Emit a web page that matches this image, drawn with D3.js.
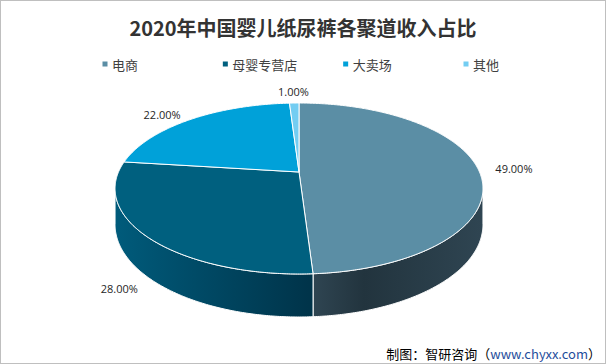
<!DOCTYPE html>
<html><head><meta charset="utf-8">
<script src="https://cdn.jsdelivr.net/npm/d3@7"></script>
<style>body{margin:0;background:#fff}svg{display:block}</style>
</head><body>
<script>
const categories = ["电商", "母婴专营店", "大卖场", "其他"];
const values = [49, 28, 22, 1];
const labels = ["49.00%", "28.00%", "22.00%", "1.00%"];
const topColors = ["#5b8ea5", "#00607f", "#00a1d9", "#73cdf2"];
const sideColors = [["#2f4552", "#22343e"], ["#005b7b", "#003349"], ["#0088bb", "#006f9a"], ["#5cb8dd", "#4aa5cc"]];
const title = "2020年中国婴儿纸尿裤各聚道收入占比";

const W = 606, H = 364;
const svg = d3.select("body").append("svg").attr("width", W).attr("height", H);
svg.append("rect").attr("x", 0.5).attr("y", 0.5).attr("width", W - 1).attr("height", H - 1)
  .attr("fill", "#fff").attr("stroke", "#bfbfbf");

svg.append("text").attr("x", 303).attr("y", 27).attr("text-anchor", "middle")
  .attr("dominant-baseline", "central")
  .style("font-family", "'Noto Sans CJK SC'").style("font-weight", "bold").style("font-size", "20px")
  .attr("fill", "#333").text(title);

// legend
const legendX = d3.scalePoint().domain(categories).range([105, 466]);
const lg = svg.append("g").selectAll("g").data(categories).join("g")
  .attr("transform", d => `translate(${legendX(d)},64)`);
lg.append("rect").attr("x", -2.5).attr("y", -2.5).attr("width", 5).attr("height", 5)
  .attr("fill", (d, i) => topColors[i]);
lg.append("text").attr("x", 7).attr("y", 0).attr("dominant-baseline", "central")
  .style("font-family", "'Noto Sans CJK SC'").style("font-size", "13px").attr("fill", "#404040")
  .text(d => d);

// 3D pie via perspective projection
const cx = 299, cy = 172, R = 180.5, Ry = 82.3, p = 0.193, depth = 34.7;
const pie = d3.pie().sort(null).value(d => d)(values);
function proj(phi, k = 1, down = 0) {
  const X = k * Math.sin(phi), D = -k * Math.cos(phi);
  const s = 1 / (1 - p * D);
  return [cx + R * X * s, cy + Ry * D * s + down * depth * s];
}
function arcPts(a0, a1, down) {
  const n = Math.max(2, Math.ceil(Math.abs(a1 - a0) / 0.01));
  return d3.range(n + 1).map(i => proj(a0 + (a1 - a0) * i / n, 1, down));
}
const line = d3.line();
const silL = Math.PI - Math.acos(p), silR = Math.PI + Math.acos(p);

const defs = svg.append("defs");
pie.forEach((d, i) => {
  const a0 = Math.max(d.startAngle, silL), a1 = Math.min(d.endAngle, silR);
  if (a1 <= a0) return;
  const g = defs.append("linearGradient").attr("id", "sg" + i).attr("gradientUnits", "userSpaceOnUse");
  const xs = [proj(a0)[0], proj(a1)[0]];
  g.attr("x1", Math.min(...xs)).attr("x2", Math.max(...xs)).attr("y1", 0).attr("y2", 0);
  const c = sideColors[i];
  if (d.endAngle <= Math.PI + 0.2) {
    g.append("stop").attr("offset", 0).attr("stop-color", c[0]);
    g.append("stop").attr("offset", 0.3).attr("stop-color", c[1]);
    g.append("stop").attr("offset", 1).attr("stop-color", c[0]);
  } else {
    g.append("stop").attr("offset", 0).attr("stop-color", c[0]);
    g.append("stop").attr("offset", 1).attr("stop-color", c[1]);
  }
});

// sides
const sides = svg.append("g");
pie.forEach((d, i) => {
  const a0 = Math.max(d.startAngle, silL), a1 = Math.min(d.endAngle, silR);
  if (a1 <= a0) return;
  const pts = arcPts(a0, a1, 0).concat(arcPts(a1, a0, 1));
  sides.append("path").attr("d", line(pts) + "Z").attr("fill", `url(#sg${i})`)
    .attr("stroke", "#fff").attr("stroke-width", 1).attr("stroke-linejoin", "round");
});

// top faces
const tops = svg.append("g");
pie.forEach((d, i) => {
  const pts = [[cx, cy]].concat(arcPts(d.startAngle, d.endAngle, 0));
  tops.append("path").attr("d", line(pts) + "Z").attr("fill", topColors[i])
    .attr("stroke", "#fff").attr("stroke-width", 1).attr("stroke-linejoin", "round");
});

// labels
pie.forEach((d, i) => {
  const mid = (d.startAngle + d.endAngle) / 2;
  const D = -1.2 * Math.cos(mid);
  const pt = proj(mid, 1.2, D > 0 ? 1 : 0);
  const dx = D < -0.5 && D > -1.0 ? -10 : (D > 0 ? 8 : 0);
  const dy = D < -0.5 && D > -1.0 ? 4 : (D > 0 ? -5 : 0);
  svg.append("text").attr("x", pt[0] + dx).attr("y", pt[1] + dy).attr("text-anchor", "middle")
    .attr("dominant-baseline", "central")
    .style("font-family", "'Open Sans'").style("font-size", "11px").attr("fill", "#262626")
    .text(labels[i]);
});

// source
const src = svg.append("text").attr("x", 601).attr("y", 353).attr("text-anchor", "end")
  .attr("dominant-baseline", "central")
  .style("font-family", "'Noto Sans CJK SC'").style("font-size", "13px").attr("fill", "#000");
src.append("tspan").text("制图：智研咨询（");
src.append("tspan").attr("fill", "#1f4e9c").text("www.chyxx.com");
src.append("tspan").text("）");
</script>
</body></html>
